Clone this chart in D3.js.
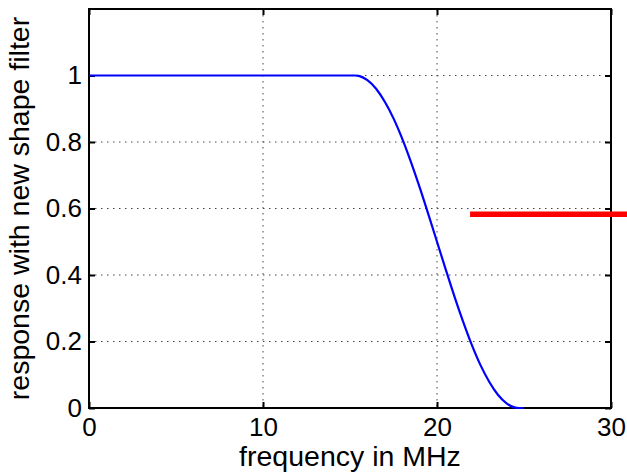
<!DOCTYPE html>
<html>
<head>
<meta charset="utf-8">
<script src="https://cdn.jsdelivr.net/npm/d3@7"></script>
<style>
  body { margin: 0; background: #fff; }
  svg { display: block; }
  text { font-family: "Liberation Sans", Arial, sans-serif; }
</style>
</head>
<body>
<svg></svg>
<script>
// frequency (MHz) and response of the shape filter
let freq = [0, 5, 10, 15, 15.3, 15.5, 16, 16.5, 17, 17.5, 18, 18.5, 19, 19.5, 20,
    20.5, 21, 21.5, 22, 22.5, 23, 23.5, 24, 24.5, 24.7, 25];
let resp = [1, 1, 1, 1, 1, 0.999, 0.986, 0.960, 0.921, 0.871, 0.810, 0.740, 0.664, 0.583, 0.5,
    0.417, 0.336, 0.260, 0.190, 0.129, 0.079, 0.040, 0.014, 0.001, 0, 0];

// red marker line (runs off the right edge)
let markX = [21.9, 32];
let markY = [0.583, 0.583];

let xTicks = [0, 10, 20, 30];
let yTicks = [0, 0.2, 0.4, 0.6, 0.8, 1];

let margin = { top: 9, right: 16, bottom: 65, left: 89 },
    width = 627 - margin.left - margin.right,
    height = 473 - margin.top - margin.bottom;

let svg = d3.select("svg")
    .attr("width", 627)
    .attr("height", 473);
let g = svg.append("g").attr("transform", "translate(" + margin.left + "," + margin.top + ")");

let x = d3.scaleLinear().domain([0, 30]).range([0, width]);
let y = d3.scaleLinear().domain([0, 1.2]).range([height, 0]);

// dotted grid
g.append("g").selectAll("line")
    .data(xTicks.slice(1, -1))
    .enter().append("line")
    .attr("x1", d => x(d)).attr("x2", d => x(d))
    .attr("y1", 0).attr("y2", height)
    .attr("stroke", "#444").attr("stroke-width", 1)
    .attr("stroke-dasharray", "1.5,4.5");
g.append("g").selectAll("line")
    .data(yTicks.slice(1))
    .enter().append("line")
    .attr("x1", 0).attr("x2", width)
    .attr("y1", d => y(d)).attr("y2", d => y(d))
    .attr("stroke", "#444").attr("stroke-width", 1)
    .attr("stroke-dasharray", "1.5,4.5");

// axes with inward ticks, labels in MATLAB style
let fs = 26;
let bottom = g.append("g")
    .attr("transform", "translate(0," + height + ")")
    .call(d3.axisBottom(x).tickValues(xTicks).tickSize(-6).tickPadding(9).tickFormat(d3.format("d")));
let left = g.append("g")
    .call(d3.axisLeft(y).tickValues(yTicks).tickSize(-6).tickPadding(7).tickFormat(d => d === 0 ? "0" : d3.format("~g")(d)));
g.append("g")
    .call(d3.axisTop(x).tickValues(xTicks).tickSize(-6).tickFormat(""));
g.append("g")
    .attr("transform", "translate(" + width + ",0)")
    .call(d3.axisRight(y).tickValues(yTicks).tickSize(-6).tickFormat(""));

g.selectAll(".domain").remove();
g.selectAll(".tick line").attr("stroke", "#000").attr("stroke-width", 2);
g.selectAll(".tick text")
    .attr("font-size", fs)
    .attr("font-family", "Liberation Sans, Arial, sans-serif")
    .attr("fill", "#000");
bottom.selectAll(".tick text").attr("dy", "0.72em");

// box
g.append("rect")
    .attr("width", width).attr("height", height)
    .attr("fill", "none").attr("stroke", "#000").attr("stroke-width", 2);

// curve
let line = d3.line()
    .x((d, i) => x(freq[i]))
    .y(d => y(d))
    .curve(d3.curveMonotoneX);
g.append("path")
    .datum(resp)
    .attr("fill", "none")
    .attr("stroke", "#0000ff")
    .attr("stroke-width", 2.2)
    .attr("d", line);

// red marker line
g.append("path")
    .datum(markY)
    .attr("fill", "none")
    .attr("stroke", "#ff0000")
    .attr("stroke-width", 5.5)
    .attr("d", d3.line().x((d, i) => x(markX[i])).y(d => y(d)));

// axis labels
svg.append("text")
    .attr("x", margin.left + width / 2)
    .attr("y", 466)
    .attr("text-anchor", "middle")
    .attr("font-size", 28.5)
    .text("frequency in MHz");

svg.append("text")
    .attr("transform", "translate(29," + (margin.top + height / 2) + ") rotate(-90)")
    .attr("text-anchor", "middle")
    .attr("font-size", 28.5)
    .text("response with new shape filter");
</script>
</body>
</html>
